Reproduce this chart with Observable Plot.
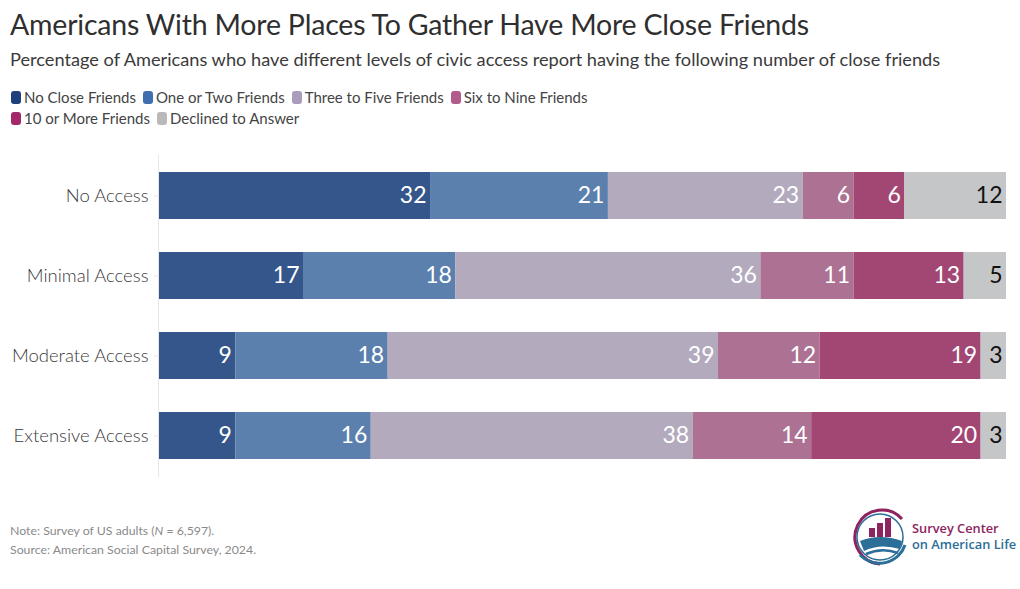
<!DOCTYPE html>
<html>
<head>
<meta charset="utf-8">
<script src="https://cdn.jsdelivr.net/npm/d3@7"></script>
<script src="https://cdn.jsdelivr.net/npm/@observablehq/plot@0.6"></script>
<style>
  html, body { margin: 0; padding: 0; background: #fff; }
  body { width: 1020px; height: 589px; position: relative; overflow: hidden; font-family: Lato, "Open Sans", sans-serif; color: #333; }
  #title { position: absolute; left: 10px; top: 7px; font-size: 28.5px; color: #2f2f2f; letter-spacing: -0.2px; white-space: nowrap; }
  #subtitle { position: absolute; left: 10px; top: 48px; font-size: 18.2px; color: #3a3a3a; white-space: nowrap; }
  #legend { position: absolute; left: 11px; top: 87px; font-size: 15px; color: #444; width: 660px; line-height: 20.5px; }
  #legend span.item { display: inline-block; margin-right: 7px; white-space: nowrap; }
  #legend span.sw { display: inline-block; width: 10px; height: 13px; border-radius: 3px; margin-right: 3px; vertical-align: -1px; }
  #chart { position: absolute; left: 0; top: 140px; }
  #foot { position: absolute; left: 10px; top: 521px; font-size: 12.3px; color: #8a8a8a; line-height: 19px; }
  #logo { position: absolute; left: 850px; top: 505px; }
</style>
</head>
<body>
<div id="title">Americans With More Places To Gather Have More Close Friends</div>
<div id="subtitle">Percentage of Americans who have different levels of civic access report having the following number of close friends</div>
<div id="legend"></div>
<div id="chart"></div>
<div id="foot">Note: Survey of US adults (<i>N</i> = 6,597).<br>Source: American Social Capital Survey, 2024.</div>
<div id="logo">
<svg width="170" height="65" viewBox="0 0 170 65">
  <path d="M 52 14 A 27 27 0 1 0 30 59" fill="none" stroke="#8e2360" stroke-width="3"/>
  <path d="M 10 50 A 27 27 0 0 0 55 40" fill="none" stroke="#2b6e98" stroke-width="3"/>
  <circle cx="30" cy="32" r="23" fill="none" stroke="#2b6e98" stroke-width="1.5"/>
  <rect x="19" y="23" width="6" height="9" fill="#8e2360"/>
  <rect x="27" y="18" width="6" height="14" fill="#8e2360"/>
  <rect x="35" y="13" width="6" height="19" fill="#8e2360"/>
  <path d="M 10 36 Q 30 28 52 36 L 50 44 Q 30 38 14 46 Z" fill="#2b6e98"/>
  <path d="M 16 49 Q 32 42 48 48" fill="none" stroke="#2b6e98" stroke-width="2.5"/>
  <text x="62" y="28" font-family="Open Sans, sans-serif" font-weight="600" font-size="12.8" fill="#8e2360">Survey Center</text>
  <text x="62" y="44" font-family="Open Sans, sans-serif" font-weight="600" font-size="12.8" fill="#2b6e98">on American Life</text>
</svg>
</div>
<script>
const categories = ["No Access", "Minimal Access", "Moderate Access", "Extensive Access"];
const seriesNames = ["No Close Friends", "One or Two Friends", "Three to Five Friends", "Six to Nine Friends", "10 or More Friends", "Declined to Answer"];
const noCloseFriends   = [32, 17, 9, 9];
const oneOrTwo         = [21, 18, 18, 16];
const threeToFive      = [23, 36, 39, 38];
const sixToNine        = [6, 11, 12, 14];
const tenOrMore        = [6, 13, 19, 20];
const declined         = [12, 5, 3, 3];
const barColors    = ["#34568a", "#5b80ae", "#b3aabe", "#ac7193", "#a24674", "#c5c6c8"];
const legendColors = ["#1f3f7d", "#3f6fae", "#a99cbd", "#b25c8c", "#a3296b", "#b9b9b9"];
const labelColors  = ["#fff", "#fff", "#fff", "#fff", "#fff", "#111"];

const seriesValues = [noCloseFriends, oneOrTwo, threeToFive, sixToNine, tenOrMore, declined];
const data = [];
seriesNames.forEach((s, si) => {
  categories.forEach((c, ci) => {
    data.push({ category: c, series: s, value: seriesValues[si][ci], labelColor: labelColors[si] });
  });
});

// legend
const legend = document.getElementById("legend");
seriesNames.forEach((s, i) => {
  const item = document.createElement("span");
  item.className = "item";
  item.innerHTML = `<span class="sw" style="background:${legendColors[i]}"></span>${s}`;
  legend.appendChild(item);
  if (i === 3) legend.appendChild(document.createElement("br"));
});

const stackOpts = { x: "value", y: "category", z: "series", order: seriesNames };

const chart = Plot.plot({
  width: 1020,
  height: 345,
  marginTop: 14,
  marginBottom: 8,
  marginLeft: 159,
  marginRight: 14,
  style: { fontFamily: "Lato, 'Open Sans', sans-serif", background: "#fff" },
  x: { domain: [0, 100], axis: null },
  y: { domain: categories, paddingInner: 0.407, paddingOuter: 0.2, label: null },
  color: { domain: seriesNames, range: barColors },
  marks: [
    Plot.ruleX([0], { stroke: "#e8e8e8", strokeWidth: 1, dx: -1 }),
    Plot.axisY({ tickSize: 5, tickPadding: 6, fontSize: 18.5, fill: "#3a3a3a", stroke: "#e6e6e6", label: null, fontWeight: 300 }),
    Plot.barX(data, Plot.stackX({ ...stackOpts, fill: "series" })),
    Plot.text(data, Plot.stackX2({ ...stackOpts, text: "value", fill: "labelColor", textAnchor: "end", dx: -4, fontSize: 23 }))
  ]
});
document.getElementById("chart").appendChild(chart);
</script>
</body>
</html>
